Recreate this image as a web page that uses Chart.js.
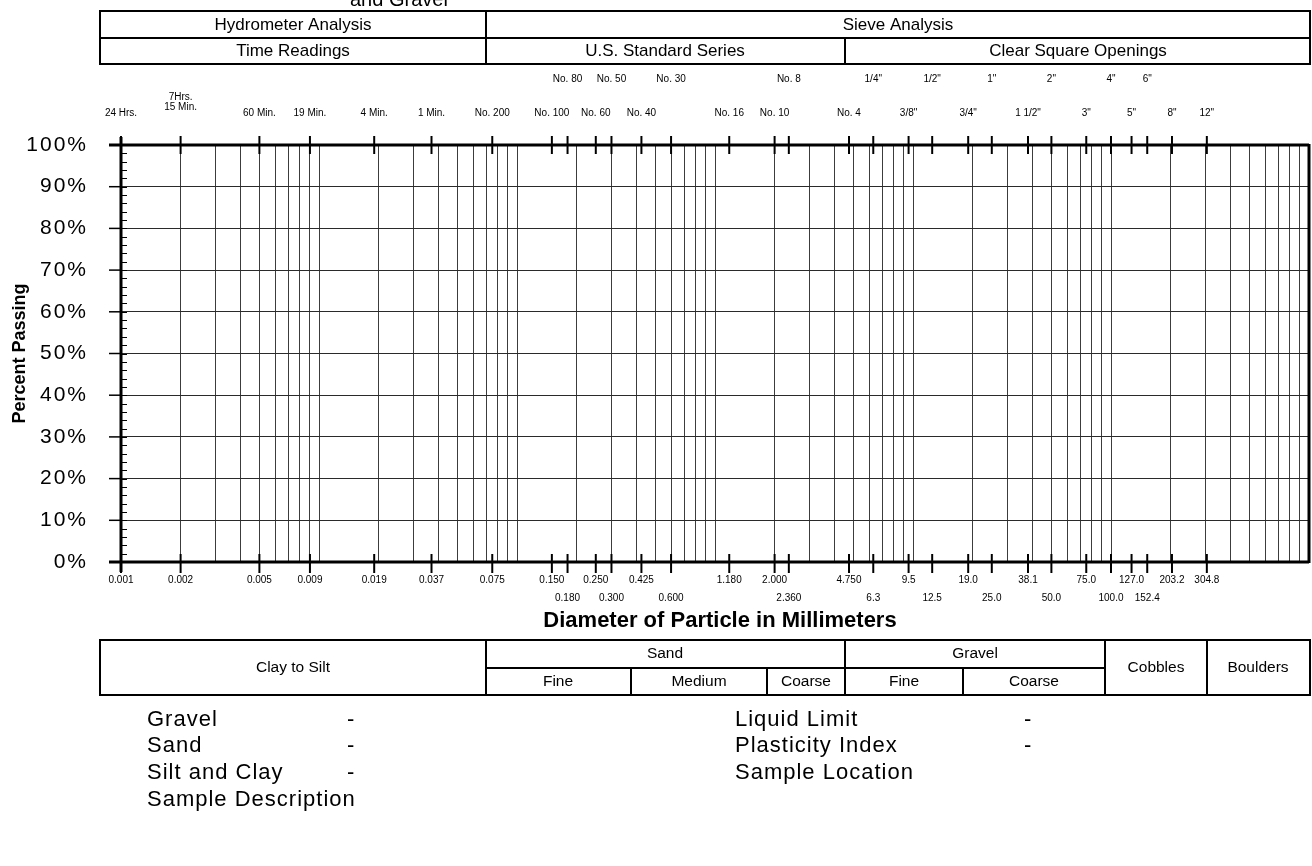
<!DOCTYPE html>
<html><head><meta charset="utf-8">
<script src="https://cdn.jsdelivr.net/npm/chart.js@4"></script>
<style>html,body{margin:0;padding:0;background:#fff;}#wrap{position:relative;width:1312px;height:866px;}</style>
</head><body><div id="wrap"><canvas id="c"></canvas></div>
<script>
// ---------- data ----------
const sieveSizesMM = [0.001, 0.002, 0.005, 0.009, 0.019, 0.037, 0.075, 0.150, 0.180, 0.250, 0.300, 0.425, 0.600, 1.180, 2.000, 2.360, 4.750, 6.3, 9.5, 12.5, 19.0, 25.0, 38.1, 50.0, 75.0, 100.0, 127.0, 152.4, 203.2, 304.8];
const sizeLabels = ['0.001','0.002','0.005','0.009','0.019','0.037','0.075','0.150','0.180','0.250','0.300','0.425','0.600','1.180','2.000','2.360','4.750','6.3','9.5','12.5','19.0','25.0','38.1','50.0','75.0','100.0','127.0','152.4','203.2','304.8'];
const sizeLabelRow = [0,0,0,0,0,0,0,0,1,0,1,0,1,0,0,1,0,1,0,1,0,1,0,1,0,1,0,1,0,0];
const sieveNames = ['24 Hrs.','7Hrs.\n15 Min.','60 Min.','19 Min.','4 Min.','1 Min.','No. 200','No. 100','No. 80','No. 60','No. 50','No. 40','No. 30','No. 16','No. 10','No. 8','No. 4','1/4"','3/8"','1/2"','3/4"','1"','1 1/2"','2"','3"','4"','5"','6"','8"','12"'];
const sieveNameRow = [1,2,1,1,1,1,1,1,0,1,0,1,0,1,1,0,1,0,1,0,1,0,1,0,1,0,1,0,1,1];
const percentTicks = [0,10,20,30,40,50,60,70,80,90,100];
const gridDecades = [-3,-2,-1,0,1,2];
const gridMultipliers = [1,2,3,4,5,6,7,8,9];
const xMin = 0.001, xMax = 1000;
const titleText = 'and Gravel';
const topRow1 = ['Hydrometer Analysis','Sieve Analysis'];
const topRow2 = ['Time Readings','U.S. Standard Series','Clear Square Openings'];
const classMain = ['Clay to Silt','Sand','Gravel','Cobbles','Boulders'];
const classSub = ['Fine','Medium','Coarse','Fine','Coarse'];
const infoLeft = ['Gravel','Sand','Silt and Clay','Sample Description'];
const infoLeftValues = ['-','-','-',''];
const infoRight = ['Liquid Limit','Plasticity Index','Sample Location'];
const infoRightValues = ['-','-',''];
const yTitle = 'Percent Passing';
const xTitle = 'Diameter of Particle in Millimeters';

const gridValues = [];
gridDecades.forEach(e => gridMultipliers.forEach(m => gridValues.push(parseFloat((m*Math.pow(10,e)).toPrecision(3)))));
gridValues.push(xMax);

// ---------- drawing ----------
const SANS = '"Liberation Sans", Arial, Helvetica, sans-serif';
const NARROW = '"Liberation Sans Narrow", "Liberation Sans", Arial, sans-serif';

function ln(ctx,x1,y1,x2,y2){ctx.beginPath();ctx.moveTo(x1,y1);ctx.lineTo(x2,y2);ctx.stroke();}
function txt(ctx,s,x,y,font,align,ls){ctx.font=font;ctx.textAlign=align||'center';ctx.letterSpacing=(ls||0)+'px';ctx.fillText(s,x,y);ctx.letterSpacing='0px';}

const formPlugin = {
  id:'form',
  afterDraw(chart){
    const ctx = chart.ctx, xs = chart.scales.x, ys = chart.scales.y;
    const L = xs.getPixelForValue(xMin), R = xs.getPixelForValue(xMax);
    const T = ys.getPixelForValue(100), B = ys.getPixelForValue(0);
    ctx.save();
    ctx.strokeStyle = '#000'; ctx.fillStyle = '#000'; ctx.textBaseline = 'middle';

    // y minor ticks (every 2%)
    ctx.lineWidth = 1;
    for (let v = 0; v <= 100; v += 2) { const y = Math.round(ys.getPixelForValue(v))+0.5; ln(ctx, L, y, L+6, y); }
    // y major ticks + labels
    ctx.lineWidth = 1.5;
    percentTicks.forEach(v => {
      const y = ys.getPixelForValue(v);
      ln(ctx, L-12, y, L, y);
      txt(ctx, v + '%', L-33, y, '21px ' + SANS, 'right', 2);
    });

    // heavy frame
    ctx.lineWidth = 3;
    ln(ctx, L-12, T, R, T);
    ln(ctx, L-12, B, R, B);
    ln(ctx, L, T-8, L, B+10);
    ln(ctx, R, T-1, R, B+1);

    // sieve ticks and labels
    ctx.lineWidth = 2;
    sieveSizesMM.forEach((v, i) => {
      const x = xs.getPixelForValue(v);
      ln(ctx, x, T-9, x, T+9);
      ln(ctx, x, B-8, x, B+11);
      const f = '10px ' + NARROW;
      const nm = sieveNames[i];
      if (sieveNameRow[i] === 2) {
        const parts = nm.split('\n');
        txt(ctx, parts[0], x, 97, f); txt(ctx, parts[1], x, 107, f);
      } else {
        txt(ctx, nm, x, sieveNameRow[i] === 0 ? 79 : 113, f);
      }
      txt(ctx, sizeLabels[i], x, sizeLabelRow[i] === 0 ? 580 : 598, f);
    });

    // axis titles
    ctx.save();
    ctx.translate(20, (T+B)/2); ctx.rotate(-Math.PI/2);
    txt(ctx, yTitle, 0, 0, 'bold 18px ' + SANS);
    ctx.restore();
    txt(ctx, xTitle, 720, 621, 'bold 22px ' + SANS);

    // cut-off title
    ctx.textBaseline = 'alphabetic';
    txt(ctx, titleText, 350, 6, '20px ' + SANS, 'left');
    ctx.textBaseline = 'middle';

    // top table
    ctx.lineWidth = 2;
    ctx.strokeRect(100, 11, 1210, 53);
    ln(ctx, 100, 38, 1310, 38);
    ln(ctx, 486, 11, 486, 64);
    ln(ctx, 845, 38, 845, 64);
    const tf = '17px ' + SANS;
    txt(ctx, topRow1[0], 293, 25, tf); txt(ctx, topRow1[1], 898, 25, tf);
    txt(ctx, topRow2[0], 293, 51, tf); txt(ctx, topRow2[1], 665, 51, tf); txt(ctx, topRow2[2], 1078, 51, tf);

    // bottom classification table
    ctx.strokeRect(100, 640, 1210, 55);
    [486, 845, 1105, 1207].forEach(x => ln(ctx, x, 640, x, 695));
    ln(ctx, 486, 668, 1105, 668);
    [631, 767, 963].forEach(x => ln(ctx, x, 668, x, 695));
    const bf = '15.5px ' + SANS;
    txt(ctx, classMain[0], 293, 668, bf);
    txt(ctx, classMain[1], 665, 654, bf);
    txt(ctx, classMain[2], 975, 654, bf);
    txt(ctx, classMain[3], 1156, 668, bf);
    txt(ctx, classMain[4], 1258, 668, bf);
    [558, 699, 806, 904, 1034].forEach((x, i) => txt(ctx, classSub[i], x, 682, bf));

    // info lines
    const inf = '22px ' + SANS;
    const rowsY = [720, 746, 773, 800];
    infoLeft.forEach((s, i) => { txt(ctx, s, 147, rowsY[i], inf, 'left', 1); if (infoLeftValues[i]) txt(ctx, infoLeftValues[i], 347, rowsY[i], inf, 'left'); });
    infoRight.forEach((s, i) => { txt(ctx, s, 735, rowsY[i], inf, 'left', 1); if (infoRightValues[i]) txt(ctx, infoRightValues[i], 1024, rowsY[i], inf, 'left'); });

    ctx.restore();
  }
};

new Chart(document.getElementById('c'), {
  type: 'scatter',
  data: { datasets: [{ label: 'Percent Passing', data: [], pointRadius: 0 }] },
  options: {
    responsive: true, maintainAspectRatio: false, animation: false,
    layout: { padding: { left: 121, top: 145, right: 3, bottom: 304 } },
    plugins: { legend: { display: false }, tooltip: { enabled: false } },
    scales: {
      x: {
        type: 'logarithmic', min: xMin, max: xMax,
        afterBuildTicks: s => { s.ticks = gridValues.map(v => ({ value: v })); },
        ticks: { display: false },
        grid: { color: '#3c3c3c', lineWidth: 1, drawTicks: false },
        border: { display: false }
      },
      y: {
        type: 'linear', min: 0, max: 100,
        afterBuildTicks: s => { s.ticks = percentTicks.map(v => ({ value: v })); },
        ticks: { display: false },
        grid: { color: '#2a2a2a', lineWidth: 1, drawTicks: false },
        border: { display: false }
      }
    }
  },
  plugins: [formPlugin]
});
</script></body></html>
